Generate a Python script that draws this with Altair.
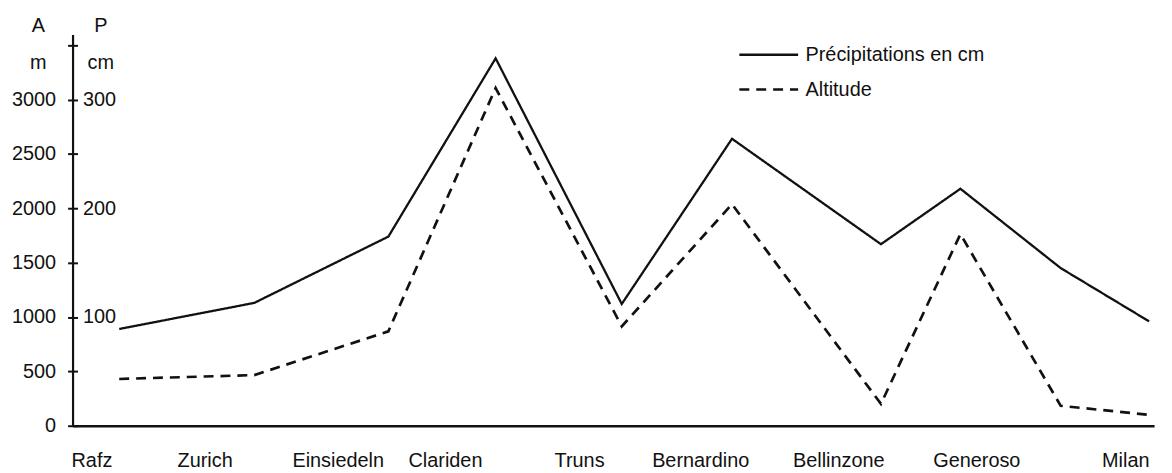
import altair as alt
import pandas as pd

# ---- data ----
point_dist = [47, 183, 318, 426, 553, 664, 814, 894, 995, 1084]      # position along the profile
altitude_m = [430, 466, 868, 3107, 914, 2038, 201, 1763, 183, 100]  # Altitude (m)
precip_cm = [89, 113, 174, 338, 112, 264, 167, 218, 145, 96]        # Précipitations (cm)

label_names = ["Rafz", "Zurich", "Einsiedeln", "Clariden", "Truns",
               "Bernardino", "Bellinzone", "Generoso", "Milan"]
label_dist = [19, 133, 267, 375, 510, 632, 771, 910, 1060]

alt_ticks = [0, 500, 1000, 1500, 2000, 2500, 3000, 3500]
series_names = ["Précipitations en cm", "Altitude"]

W, H = 1089, 394
FONT = "Liberation Sans"
INK = "#111111"

df_alt = pd.DataFrame({"d": point_dist, "v": altitude_m, "s": "Altitude"})
df_p = pd.DataFrame({"d": point_dist, "p": precip_cm, "s": "Précipitations en cm"})

label_expr = ("[" + ",".join(f"'{n}'" for n in label_names) + "][indexof(["
              + ",".join(str(v) for v in label_dist) + "], datum.value)]")

x_enc = alt.X(
    "d:Q",
    scale=alt.Scale(domain=[0, W], nice=False, zero=False),
    axis=alt.Axis(values=label_dist, labelExpr=label_expr, title=None,
                  ticks=False, tickSize=0, labelPadding=41,
                  labelBaseline="alphabetic", labelAlign="center",
                  labelOverlap=False, labelFlush=False, labelBound=False,
                  domainColor=INK, domainWidth=2.5, grid=False),
)

yscale = alt.Scale(domain=[0, 3600], nice=False, zero=True)

dash = alt.StrokeDash(
    "s:N",
    scale=alt.Scale(domain=series_names, range=[[1, 0], [10, 7]]),
    legend=alt.Legend(orient="none", legendX=670, legendY=3, title=None,
                      symbolType="stroke", symbolSize=3500,
                      symbolStrokeWidth=2.4, symbolStrokeColor=INK,
                      labelFont=FONT, labelFontSize=20, labelColor=INK,
                      labelLimit=0, labelOffset=6, rowPadding=0,
                      clipHeight=35, padding=0),
)

line_alt = alt.Chart(df_alt).mark_line(color=INK, strokeWidth=2.7).encode(
    x=x_enc,
    y=alt.Y("v:Q", scale=yscale,
            axis=alt.Axis(orient="left", values=alt_ticks, format="d",
                          labelExpr="datum.value == 3500 ? '' : datum.label",
                          title=["A", "m"], titleAngle=0, titleX=-35, titleY=-3,
                          titleAlign="center", titleBaseline="alphabetic",
                          titleLineHeight=37, tickSize=5, labelPadding=12,
                          domainColor=INK, domainWidth=2.2, grid=False)),
    strokeDash=dash,
)

line_p = alt.Chart(df_p).transform_calculate(pm="datum.p * 10").mark_line(
    color=INK, strokeWidth=2.3).encode(
    x=x_enc,
    y=alt.Y("pm:Q", scale=yscale,
            axis=alt.Axis(orient="right", offset=-W, values=alt_ticks,
                          labelExpr="(datum.value % 1000 == 0 && datum.value > 0 && datum.value < 3500) ? '' + (datum.value / 10) : ''",
                          title=["P", "cm"], titleAngle=0, titleX=28, titleY=-3,
                          titleAlign="center", titleBaseline="alphabetic",
                          titleLineHeight=37, tickSize=5, labelPadding=5,
                          labelAlign="left", domain=False, grid=False)),
    strokeDash=dash,
)

chart = alt.layer(line_alt, line_p).resolve_axis(y="independent").properties(
    width=W, height=H,
    autosize=alt.AutoSizeParams(type="none"),
    padding={"left": 65, "top": 25, "right": 10, "bottom": 45},
    background="white",
).configure_view(stroke=None).configure_axis(
    labelFont=FONT, labelFontSize=20, labelColor=INK,
    titleFont=FONT, titleFontSize=20, titleColor=INK, titleFontWeight="normal",
    tickColor=INK, tickWidth=2,
)

chart.save("out.html", embed_options={"renderer": "svg", "actions": False})
